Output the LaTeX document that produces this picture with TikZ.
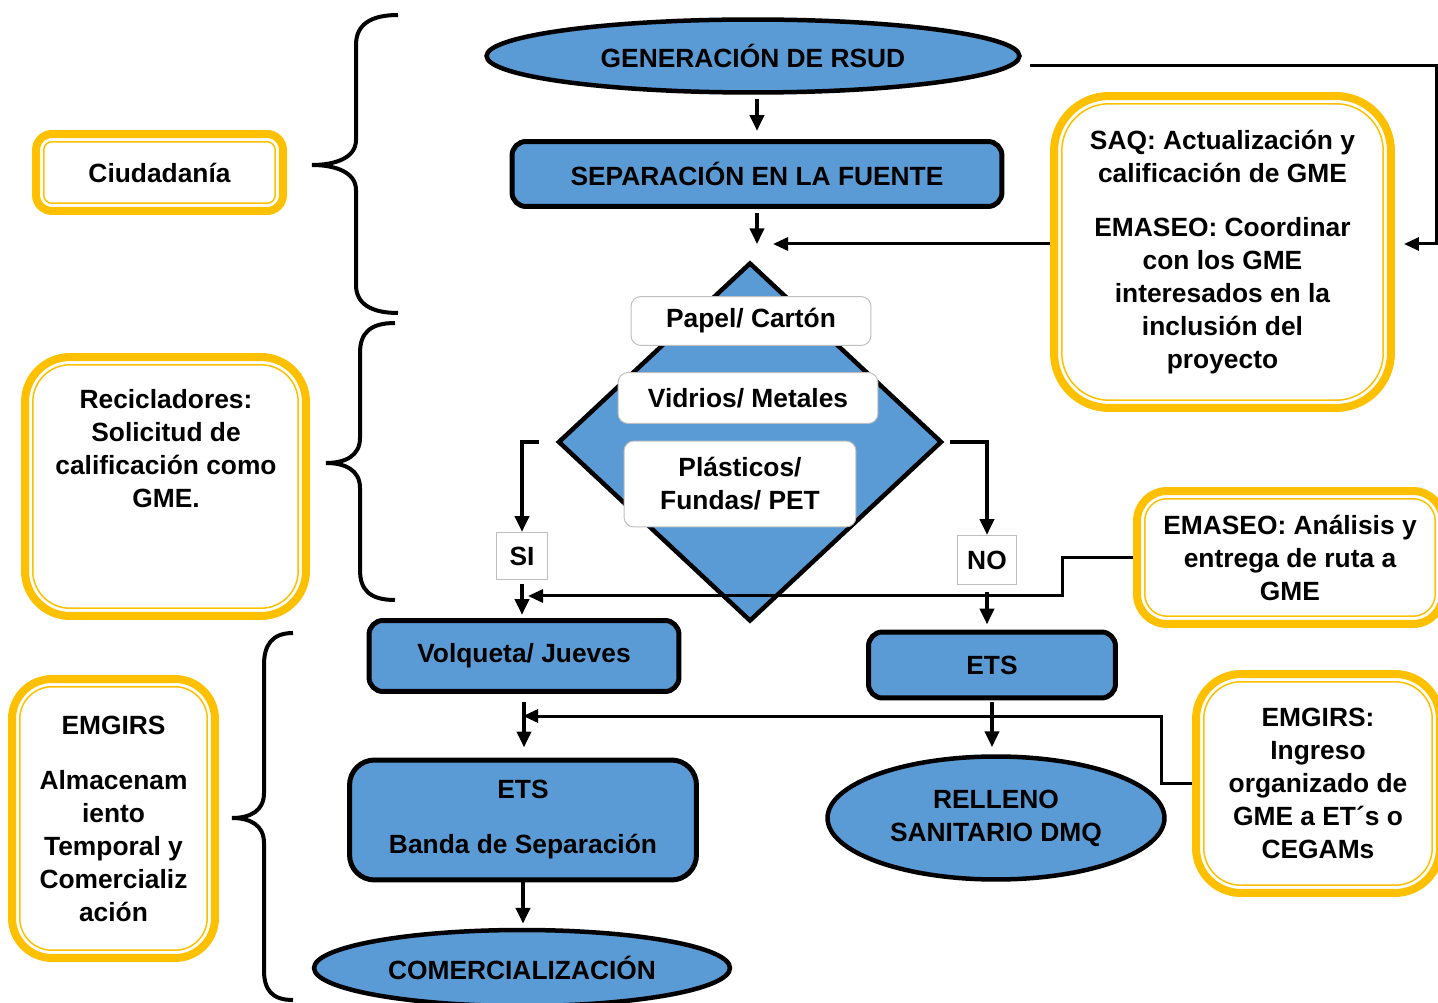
\documentclass[tikz,border=0pt]{standalone}
\usepackage{fontspec}
\setmainfont{Liberation Sans}
\usetikzlibrary{shapes.geometric,arrows.meta}
\definecolor{azul}{HTML}{5B9BD5}
\definecolor{oro}{HTML}{FFC000}

\begin{document}
\begin{tikzpicture}[x=0.02cm,y=-0.02cm,font=\fontsize{15}{18.8}\selectfont\bfseries]
	\tikzset{caja/.style={draw,line width=0.1cm,fill=azul,rounded corners=0.28cm,align=center,inner sep=0}}
	\tikzset{elipse/.style={draw,ellipse,line width=0.09cm,fill=azul,align=center,inner sep=0}}
	\tikzset{material/.style={draw=gray!50,fill=white,rounded corners=0.2cm,align=center,inner sep=0,line width=0.02cm}}
	\tikzset{etiqueta/.style={draw=gray!50,fill=white,line width=0.02cm,inner sep=0}}
	\tikzset{actor/.style={draw=oro,line width=0.16cm,rounded corners=#1,align=center,inner sep=0,
		path picture={\draw[oro,line width=0.03cm,rounded corners=#1-0.155cm] ([shift={(0.155cm,-0.155cm)}]path picture bounding box.north west) rectangle ([shift={(-0.155cm,0.155cm)}]path picture bounding box.south east);}}}
	\tikzset{flecha/.style={-{Triangle[length=0.32cm,width=0.28cm]},line width=0.08cm}}
	\tikzset{conector/.style={-{Triangle[length=0.3cm,width=0.26cm]},line width=0.06cm}}
	\tikzset{llave/.style={line width=0.08cm}}
	\useasboundingbox (0,0) rectangle (1438,1003);
	\clip (0,0) rectangle (1438,1003);
	\node [elipse,minimum width=10.66cm,minimum height=1.46cm] (gen) at (753,56) {GENERACIÓN DE RSUD};
	\node [caja,minimum width=9.8cm,minimum height=1.3cm] (sep) at (757,174) {SEPARACIÓN EN LA FUENTE};
	\node [diamond,draw,line width=0.09cm,fill=azul,aspect=1.07,minimum width=7.68cm,minimum height=7.18cm,inner sep=0] (dia) at (750,442) {};
		\node [material,minimum width=4.8cm,minimum height=0.98cm] (pap) at (751,321) {Papel/ Cartón};
		\node [material,minimum width=5.2cm,minimum height=1.02cm] (vid) at (748,398) {Vidrios/ Metales};
		\node [material,minimum width=4.64cm,minimum height=1.72cm] (pla) at (740,484) {Plásticos/\\Fundas/ PET};
	\node [etiqueta,minimum width=1.02cm,minimum height=0.94cm] (si) at (522,556) {SI};
	\node [etiqueta,minimum width=1.18cm,minimum height=0.98cm] (no) at (987,560) {NO};
	\node [caja,minimum width=6.2cm,minimum height=1.42cm] (vol) at (524,656) {Volqueta/ Jueves};
	\node [caja,minimum width=4.94cm,minimum height=1.32cm] (etsR) at (992,665) {ETS};
	\node [caja,rounded corners=0.5cm,minimum width=6.94cm,minimum height=2.4cm] (etsB) at (523,820) {ETS\\[0.44cm]Banda de Separación};
	\node [elipse,minimum width=6.74cm,minimum height=2.46cm] (rel) at (996,818) {RELLENO\\SANITARIO DMQ};
	\node [elipse,minimum width=8.32cm,minimum height=1.52cm] (com) at (522,968) {COMERCIALIZACIÓN};

	\node [actor=0.32cm,minimum width=4.94cm,minimum height=1.54cm] (ciu) at (159.5,172.5) {Ciudadanía};
	\node [actor=0.9cm,minimum width=5.62cm,minimum height=5.18cm] (rec) at (165.5,486.5) {};
		\node [anchor=north,align=center,inner sep=0] (recT) at (166,389) {Recicladores:\\Solicitud de\\calificación como\\GME.};
	\node [actor=0.8cm,minimum width=4.06cm,minimum height=5.58cm] (emgL) at (113.5,818.5) {EMGIRS\\[0.44cm]Almacenam\\iento\\Temporal y\\Comercializ\\ación};
	\node [actor=1.1cm,minimum width=6.74cm,minimum height=6.24cm] (saq) at (1222.5,252) {SAQ: Actualización y\\calificación de GME\\[0.42cm]EMASEO: Coordinar\\con los GME\\interesados en la\\inclusión del\\proyecto};
	\node [actor=0.6cm,minimum width=6.12cm,minimum height=2.66cm] (emaA) at (1290,557.5) {EMASEO: Análisis y\\entrega de ruta a\\GME};
	\node [actor=0.9cm,minimum width=4.88cm,minimum height=4.38cm] (emgR) at (1318,783.5) {EMGIRS:\\Ingreso\\organizado de\\GME a ET´s o\\CEGAMs};

	\draw [llave] (398,15) .. controls (370,15) and (356,25) .. (356,45) -- (356,140) .. controls (356,158) and (335,165) .. (312,165) .. controls (335,165) and (356,172) .. (356,190) -- (356,285) .. controls (356,303) and (370,313) .. (398,313);
	\draw [llave] (395,323) .. controls (370,323) and (360,333) .. (360,353) -- (360,438) .. controls (360,456) and (345,463) .. (326,463) .. controls (345,463) and (360,470) .. (360,488) -- (360,570) .. controls (360,590) and (370,600) .. (395,600);
	\draw [llave] (293,633) .. controls (272,633) and (264,645) .. (264,665) -- (264,793) .. controls (264,811) and (250,818) .. (232,818) .. controls (250,818) and (264,825) .. (264,843) -- (264,970) .. controls (264,990) and (272,1000) .. (293,1000);

	\coordinate (jC) at (773,244);
	\coordinate (loopS) at (1030,66);
	\coordinate (jA) at (528,596);
	\coordinate (jB) at (523,716);
	\draw [flecha,shorten <=0.08cm,shorten >=0.16cm] (gen.south -| sep.north) -- (sep.north);
	\draw [flecha,shorten <=0.08cm,shorten >=0.32cm] (sep.south) -- (sep.south |- dia.north);
	\draw [conector] (saq.west |- jC) -- (jC);
	\draw [conector] (loopS) -| (1436,244) -- ([xshift=0.18cm]saq.east |- jC);
	\draw [flecha] ([xshift=-0.34cm]dia.west) -| (si.north);
	\draw [flecha] ([xshift=0.12cm]dia.east) -| (no.north);
	\draw [flecha,shorten <=0.08cm,shorten >=0.06cm] (si.south) -- (si.south |- vol.north);
	\draw [flecha,shorten <=0.14cm,shorten >=0.1cm] (no.south) -- (no.south |- etsR.north);
	\draw [conector] (emaA.west) -- ++(-1.42cm,0) |- (jA);
	\draw [flecha,shorten <=0.16cm,shorten >=0.2cm] (vol.south) -- (vol.south |- etsB.north);
	\draw [conector] (emgR.west) -- ++(-0.62cm,0) |- (jB);
	\draw [flecha,shorten <=0.04cm,shorten >=0.14cm] (etsR.south) -- (etsR.south |- rel.north);
	\draw [flecha,shorten >=0.08cm] (etsB.south) -- (etsB.south |- com.north);
\end{tikzpicture}
\end{document}
